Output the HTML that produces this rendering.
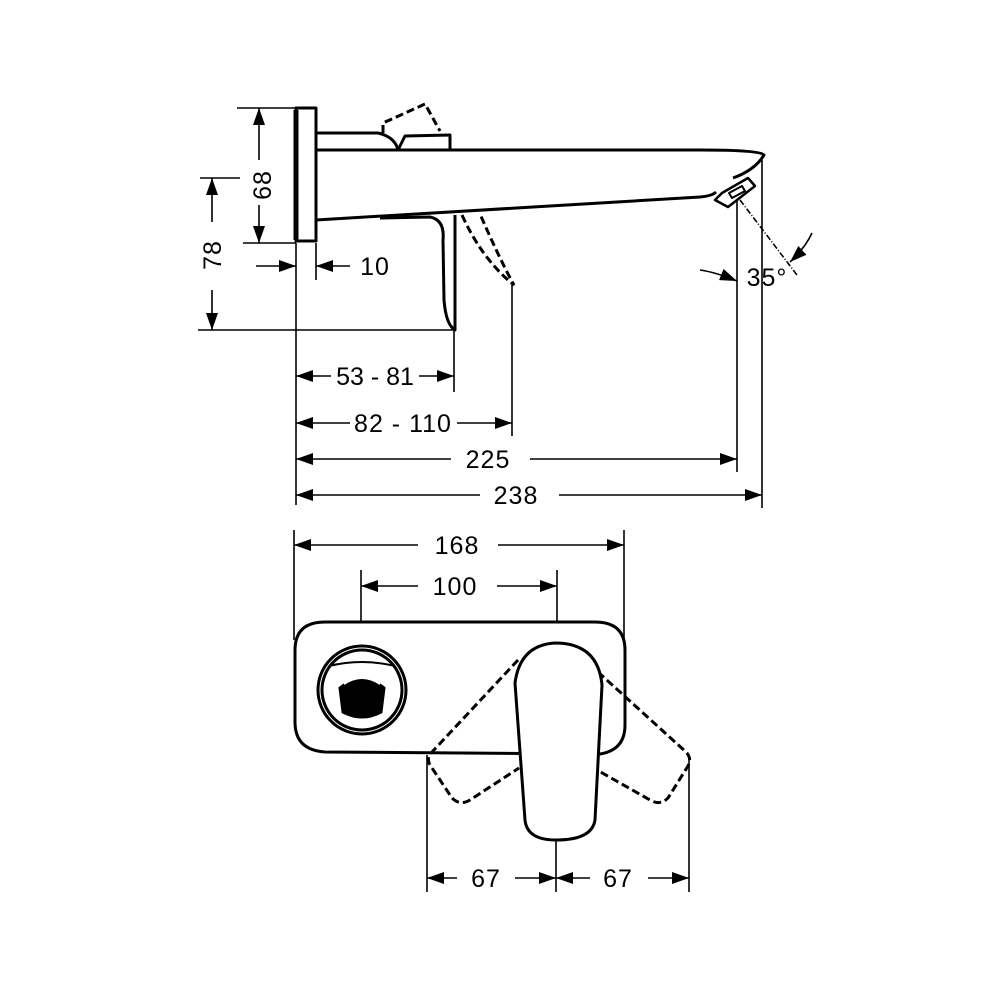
<!DOCTYPE html>
<html><head><style>html,body{margin:0;padding:0;background:#fff}svg{display:block}</style></head>
<body>
<svg width="1000" height="1000" viewBox="0 0 1000 1000" xmlns="http://www.w3.org/2000/svg">
<defs>
<marker id="a" viewBox="0 0 17 12" refX="17" refY="6" markerWidth="17" markerHeight="12" markerUnits="userSpaceOnUse" orient="auto-start-reverse">
<path d="M0,0 L17,6 L0,12 Z" fill="#000"/></marker>
</defs>
<g font-family="'Liberation Sans',sans-serif" font-size="25" fill="#000" text-anchor="middle" letter-spacing="1">
<g stroke="#000" stroke-width="1.6" fill="none">
<line x1="237" y1="108" x2="296" y2="108"/>
<line x1="243" y1="243" x2="296" y2="243"/>
<line x1="200" y1="178" x2="240" y2="178"/>
<line x1="198" y1="330" x2="456" y2="330"/>
<line x1="296" y1="243" x2="296" y2="505"/>
<line x1="316" y1="243" x2="316" y2="280"/>
<line x1="454" y1="330" x2="454" y2="392"/>
<line x1="512" y1="285" x2="512" y2="436"/>
<line x1="737" y1="200" x2="737" y2="472"/>
<line x1="762" y1="160" x2="762" y2="508"/>
<line x1="740" y1="200" x2="797" y2="275" stroke-dasharray="6,2,1,2"/>
<line x1="259" y1="108" x2="259" y2="160" marker-start="url(#a)"/>
<line x1="259" y1="205" x2="259" y2="243" marker-end="url(#a)"/>
<line x1="212" y1="178" x2="212" y2="222" marker-start="url(#a)"/>
<line x1="212" y1="290" x2="212" y2="330" marker-end="url(#a)"/>
<line x1="256" y1="266" x2="296" y2="266" marker-end="url(#a)"/>
<line x1="350" y1="266" x2="316" y2="266" marker-end="url(#a)"/>
<line x1="296" y1="376" x2="331" y2="376" marker-start="url(#a)"/>
<line x1="419" y1="376" x2="454" y2="376" marker-end="url(#a)"/>
<line x1="296" y1="423" x2="350" y2="423" marker-start="url(#a)"/>
<line x1="457" y1="423" x2="512" y2="423" marker-end="url(#a)"/>
<line x1="296" y1="459" x2="451" y2="459" marker-start="url(#a)"/>
<line x1="530" y1="459" x2="737" y2="459" marker-end="url(#a)"/>
<line x1="296" y1="495" x2="480" y2="495" marker-start="url(#a)"/>
<line x1="559" y1="495" x2="762" y2="495" marker-end="url(#a)"/>
<path d="M700,270 Q715,272 737,281" marker-end="url(#a)"/>
<path d="M812,233 Q805,248 790,262" marker-end="url(#a)"/>
<line x1="294" y1="530" x2="294" y2="640"/>
<line x1="624" y1="530" x2="624" y2="640"/>
<line x1="361" y1="570" x2="361" y2="622"/>
<line x1="557" y1="570" x2="557" y2="622"/>
<line x1="294" y1="545" x2="418" y2="545" marker-start="url(#a)"/>
<line x1="498" y1="545" x2="624" y2="545" marker-end="url(#a)"/>
<line x1="361" y1="586" x2="418" y2="586" marker-start="url(#a)"/>
<line x1="497" y1="586" x2="557" y2="586" marker-end="url(#a)"/>
<line x1="427" y1="755" x2="427" y2="892"/>
<line x1="556" y1="838" x2="556" y2="892"/>
<line x1="689" y1="755" x2="689" y2="892"/>
<line x1="427" y1="878" x2="457" y2="878" marker-start="url(#a)"/>
<line x1="515" y1="878" x2="556" y2="878" marker-end="url(#a)"/>
<line x1="556" y1="878" x2="590" y2="878" marker-start="url(#a)"/>
<line x1="648" y1="878" x2="689" y2="878" marker-end="url(#a)"/>
</g>
<text x="375" y="385" letter-spacing="0">53 - 81</text>
<text x="403" y="432">82 - 110</text>
<text x="488" y="468">225</text>
<text x="516" y="504">238</text>
<text x="457" y="554">168</text>
<text x="455" y="595">100</text>
<text x="486" y="887">67</text>
<text x="618" y="887">67</text>
<text x="375" y="275">10</text>
<text x="767" y="286">35°</text>
<text transform="translate(271,185) rotate(-90)">68</text>
<text transform="translate(221,255) rotate(-90)">78</text>
<g stroke="#000" stroke-width="3" fill="#fff" stroke-linejoin="round">
<path d="M296,108 L316,108 L316,241 L296,241 Z"/>
<line x1="296" y1="110" x2="296" y2="240" stroke-width="5"/>
<path d="M316,133 L378,133 Q395,137 398,150" fill="none"/>
<path d="M398,150 L405,136 L450,135 L450,150" fill="none"/>
<path d="M316,150 L700,150 Q760,150 764,155 Q755,170 733,178" fill="none"/>
<path d="M316,220 L700,197 Q712,196 716,192" fill="none"/>
<path d="M380,218 L430,217 Q445,220 443,240 L444,300 Q446,325 455,330 L455,215" fill="none"/>
<path d="M715,200 L722,193 L748,178 L755,186 L728,207 Z" stroke-width="2.5"/>
<path d="M729,193 L742,186 L745,191 L732,198 Z" stroke-width="2"/>
</g>
<g stroke="#000" stroke-width="3" fill="none" stroke-dasharray="8,4">
<path d="M383,133 L383,123 L425,104 L440,131"/>
<path d="M462,215 Q480,255 508,280 L514,285 Q500,260 480,214"/>
</g>
<g stroke="#000" stroke-width="3" fill="none">
<path d="M325,622 L595,622 Q625,622 625,650 L625,725 Q625,750 600,754 L325,752 Q295,750 295,722 L295,650 Q295,622 325,622 Z" fill="#fff"/>
<g stroke-dasharray="8,4">
<path d="M518,660 L432,752 Q426,758 430,765 L452,798 Q460,806 470,800 L519,768"/>
<path d="M598,672 L686,752 Q692,758 688,766 L668,798 Q660,806 650,800 L597,770"/>
</g>
<circle cx="362" cy="690" r="44" fill="#fff"/>
<circle cx="362" cy="690" r="40"/>
<path d="M329,666 Q362,658 395,666" stroke-width="2"/>
<path d="M340,688 Q362,670 384,688 L381,712 Q362,722 343,712 Z" fill="#000"/>
<path d="M344,684 Q362,672 380,684" stroke="#fff" stroke-width="2"/>
<path d="M515,683 Q520,645 555,643 Q598,643 602,685 L595,820 Q592,840 556,840 Q527,840 525,820 Z" fill="#fff"/>
</g>
</g>
</svg>
</body></html>
